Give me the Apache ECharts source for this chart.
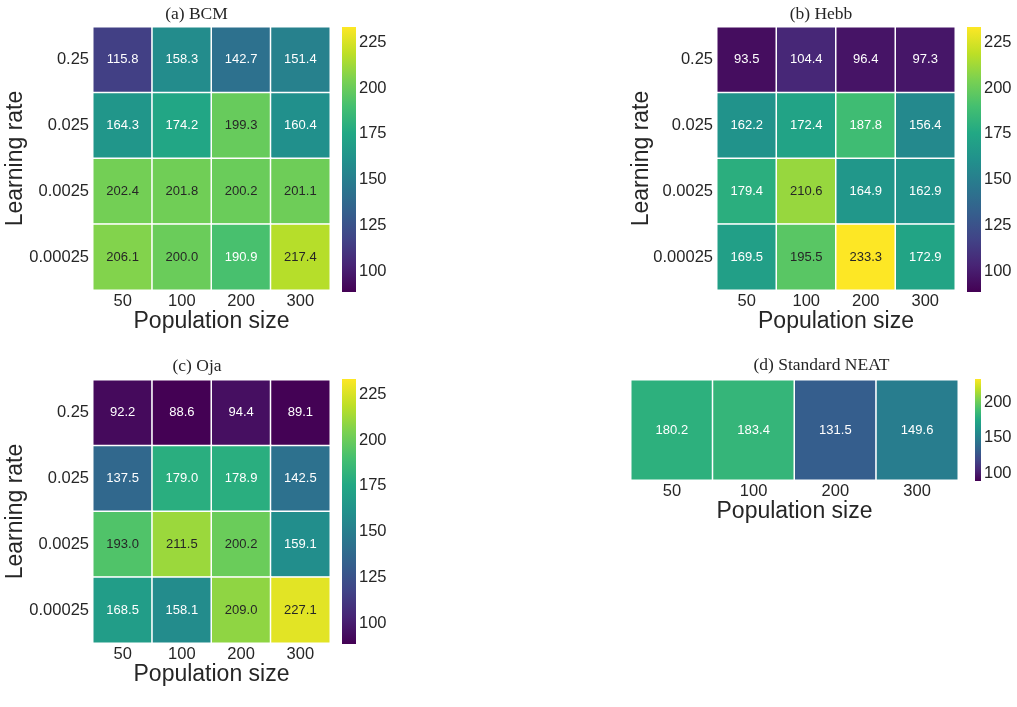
<!DOCTYPE html>
<html>
<head>
<meta charset="utf-8">
<script src="https://cdn.jsdelivr.net/npm/echarts@6/dist/echarts.min.js"></script>
<style>html,body{margin:0;padding:0;background:#fff}#c{width:1017px;height:707px}</style>
</head>
<body>
<div id="c"></div>
<script>
const popSizes = ['50', '100', '200', '300'];
const learningRates = ['0.25', '0.025', '0.0025', '0.00025'];
const bcm = [
  [115.8, 158.3, 142.7, 151.4],
  [164.3, 174.2, 199.3, 160.4],
  [202.4, 201.8, 200.2, 201.1],
  [206.1, 200.0, 190.9, 217.4]
];
const hebb = [
  [93.5, 104.4, 96.4, 97.3],
  [162.2, 172.4, 187.8, 156.4],
  [179.4, 210.6, 164.9, 162.9],
  [169.5, 195.5, 233.3, 172.9]
];
const oja = [
  [92.2, 88.6, 94.4, 89.1],
  [137.5, 179.0, 178.9, 142.5],
  [193.0, 211.5, 200.2, 159.1],
  [168.5, 158.1, 209.0, 227.1]
];
const neat = [180.2, 183.4, 131.5, 149.6];
const cbarTicks = [100, 125, 150, 175, 200, 225];
const cbarTicksNeat = [100, 150, 200];
const titles = ['(a) BCM', '(b) Hebb', '(c) Oja', '(d) Standard NEAT'];

const viridis = ['#440154', '#482475', '#414487', '#355f8d', '#2a788e', '#21918c',
                 '#22a884', '#44bf70', '#7ad151', '#bddf26', '#fde725'];
const allVals = [].concat(...bcm, ...hebb, ...oja, neat);
const vmin = Math.min(...allVals);
const vmax = Math.max(...allVals);

const SANS = 'Liberation Sans, Arial, sans-serif';
const SERIF = 'Liberation Serif, Times New Roman, serif';
const TXT = '#262626';

function toData(mat) {
  const out = [];
  mat.forEach((row, r) => row.forEach((v, c) => {
    out.push({ value: [c, r, v], label: { color: v >= 192 ? TXT : '#ffffff' } });
  }));
  return out;
}

const panels = [
  { heat: { left: 93, top: 27, width: 237, height: 263 }, cbar: { left: 342, top: 27, width: 14, height: 265 }, data: toData(bcm), ycats: learningRates, ticks: cbarTicks, gap: 65.5 },
  { heat: { left: 717, top: 27, width: 238, height: 263 }, cbar: { left: 967, top: 27, width: 14, height: 265 }, data: toData(hebb), ycats: learningRates, ticks: cbarTicks, gap: 64 },
  { heat: { left: 93, top: 380, width: 237, height: 263 }, cbar: { left: 342, top: 379, width: 14, height: 265 }, data: toData(oja), ycats: learningRates, ticks: cbarTicks, gap: 65.5 },
  { heat: { left: 631, top: 380, width: 327, height: 100 }, cbar: { left: 975, top: 379, width: 6, height: 102 }, data: toData([neat]), ycats: [''], ticks: cbarTicksNeat, gap: 0 }
];
const titlePos = [[196.5, 5], [821, 5], [197, 357.5], [821.5, 356.5]];

const grid = [], xAxis = [], yAxis = [], series = [], title = [];
const gradStops = viridis.map((c, i) => ({ offset: i / (viridis.length - 1), color: c }));

panels.forEach((p, i) => {
  grid.push(p.heat, p.cbar);
  const gh = 2 * i, gc = 2 * i + 1;
  xAxis.push({
    gridIndex: gh, type: 'category', data: popSizes,
    axisLine: { show: false }, axisTick: { show: false }, splitLine: { show: false },
    axisLabel: { fontFamily: SANS, fontSize: 16.5, color: TXT, margin: 3 },
    name: 'Population size', nameLocation: 'middle', nameGap: 20, nameMoveOverlap: false,
    nameTextStyle: { fontFamily: SANS, fontSize: 23, color: TXT, verticalAlign: 'top' }
  });
  xAxis.push({ gridIndex: gc, type: 'value', min: 0, max: 1, show: false });
  const ya = {
    gridIndex: gh, type: 'category', data: p.ycats, inverse: true,
    axisLine: { show: false }, axisTick: { show: false }, splitLine: { show: false },
    axisLabel: { fontFamily: SANS, fontSize: 16.5, color: TXT, margin: 4, show: i !== 3 }
  };
  if (i !== 3) {
    ya.name = 'Learning rate';
    ya.nameLocation = 'middle';
    ya.nameGap = p.gap;
    ya.nameMoveOverlap = false;
    ya.nameTextStyle = { fontFamily: SANS, fontSize: 23, color: TXT };
  }
  yAxis.push(ya);
  yAxis.push({
    gridIndex: gc, type: 'value', position: 'right', min: vmin, max: vmax,
    axisLine: { show: false }, splitLine: { show: false },
    axisTick: { show: true, length: 3, customValues: p.ticks, lineStyle: { color: TXT, width: 1 } },
    axisLabel: { customValues: p.ticks, fontFamily: SANS, fontSize: 16.5, color: TXT, margin: 3 }
  });
  series.push({
    type: 'heatmap', xAxisIndex: 2 * i, yAxisIndex: 2 * i, data: p.data,
    itemStyle: { borderColor: '#ffffff', borderWidth: 1.5 },
    label: { show: true, fontFamily: SANS, fontSize: 13, formatter: q => q.value[2].toFixed(1) },
    emphasis: { disabled: true }
  });
  series.push({
    type: 'custom', xAxisIndex: 2 * i + 1, yAxisIndex: 2 * i + 1,
    data: [[vmin, vmax]], silent: true,
    renderItem: (params, api) => {
      const p0 = api.coord([0, api.value(0)]);
      const p1 = api.coord([1, api.value(1)]);
      return {
        type: 'rect',
        shape: { x: p0[0], y: p1[1], width: p1[0] - p0[0], height: p0[1] - p1[1] },
        style: { fill: new echarts.graphic.LinearGradient(0, 1, 0, 0, gradStops) }
      };
    }
  });
  title.push({
    text: titles[i], left: titlePos[i][0], top: titlePos[i][1], textAlign: 'center', padding: 0,
    textStyle: { fontFamily: SERIF, fontSize: 17.5, fontWeight: 'normal', color: TXT }
  });
});

const chart = echarts.init(document.getElementById('c'), null, { renderer: 'canvas' });
chart.setOption({
  backgroundColor: '#ffffff',
  animation: false,
  title, grid, xAxis, yAxis, series,
  visualMap: {
    show: false, type: 'continuous', min: vmin, max: vmax,
    seriesIndex: [0, 2, 4, 6], dimension: 2,
    inRange: { color: viridis }
  }
});
</script>
</body>
</html>
